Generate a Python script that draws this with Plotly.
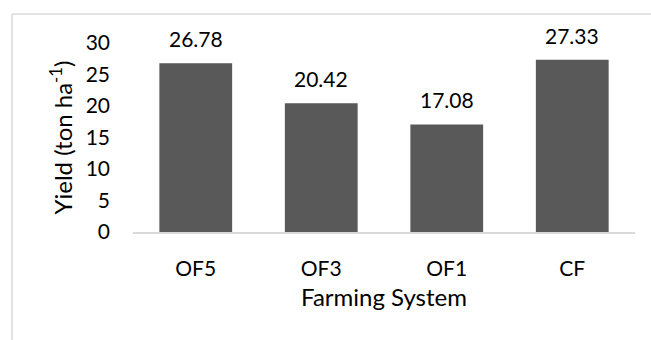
import plotly.graph_objects as go

categories = ["OF5", "OF3", "OF1", "CF"]
yield_values = [26.78, 20.42, 17.08, 27.33]
y_ticks = [0, 5, 10, 15, 20, 25, 30]

W, H = 651, 340
L, R, T, B = 133, 16, 43, 108

FONT = "Lato"
TXT = "#000000"

fig = go.Figure(
    go.Bar(
        x=categories,
        y=yield_values,
        marker=dict(color="#595959", line=dict(width=0)),
        width=0.58,
        hoverinfo="skip",
    )
)

for c, v in zip(categories, yield_values):
    fig.add_annotation(
        x=c, y=v, xref="x", yref="y",
        text=f"{v:.2f}",
        showarrow=False,
        yanchor="bottom",
        yshift=10,
        font=dict(family=FONT, size=21, color=TXT),
    )

pw = W - L - R
ph = H - T - B
def px_x(p):
    return (p - L) / pw
def px_y(p):
    return (H - B - p) / ph

fig.update_layout(
    width=W,
    height=H,
    margin=dict(l=L, r=R, t=T, b=B, pad=0),
    paper_bgcolor="white",
    plot_bgcolor="white",
    showlegend=False,
    font=dict(family=FONT, size=21, color=TXT),
    xaxis=dict(
        showgrid=False,
        showline=True,
        linecolor="#d9d9d9",
        linewidth=2,
        ticks="",
        tickfont=dict(family=FONT, size=21, color=TXT),
        ticklabelstandoff=17,
        title=dict(text="Farming System", font=dict(family=FONT, size=24, color=TXT), standoff=10),
        fixedrange=True,
    ),
    yaxis=dict(
        range=[0, 30],
        tickvals=y_ticks,
        showgrid=False,
        zeroline=False,
        showline=False,
        ticks="",
        tickfont=dict(family=FONT, size=21, color=TXT),
        ticklabelstandoff=22,
        title=dict(text="Yield (ton ha<sup>-1</sup>)", font=dict(family=FONT, size=24, color=TXT), standoff=6),
        fixedrange=True,
    ),
    shapes=[
        dict(type="line", xref="paper", yref="paper",
             x0=px_x(12), x1=px_x(651), y0=px_y(14), y1=px_y(14),
             line=dict(color="#d9d9d9", width=1.5)),
        dict(type="line", xref="paper", yref="paper",
             x0=px_x(12), x1=px_x(12), y0=px_y(14), y1=px_y(340),
             line=dict(color="#d9d9d9", width=1.5)),
    ],
)

fig.write_html("out.html", config={"displayModeBar": False})
